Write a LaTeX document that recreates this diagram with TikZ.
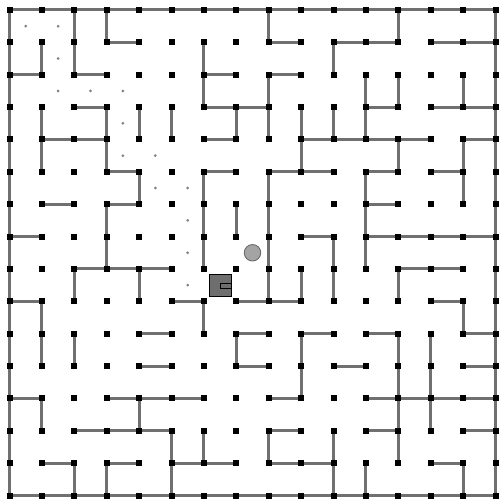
\documentclass[tikz,border=0pt]{standalone}
\usepackage{tikz}
\definecolor{wallgray}{HTML}{707070}
\definecolor{dotgray}{HTML}{808080}
\definecolor{ballfill}{HTML}{A4A4A4}
\definecolor{ballline}{HTML}{6A6A6A}
\definecolor{botfill}{HTML}{6E6E6E}
\tikzset{
  wall/.style={draw=wallgray, line width=3pt, line cap=rect},
  post/.style={rectangle, fill=black, minimum size=6pt, inner sep=0pt},
  pathdot/.style={circle, fill=dotgray, minimum size=3pt, inner sep=0pt},
  ball/.style={circle, fill=ballfill, draw=ballline, line width=0.9pt, minimum size=16.5pt, inner sep=0pt},
  robot/.style={rectangle, fill=botfill, draw=black, line width=1.2pt, minimum size=22pt, inner sep=0pt}
}
\begin{document}
\begin{tikzpicture}[x=1pt,y=-1pt]
\useasboundingbox (0,0) rectangle (500,502);
% grid coordinates
\foreach \i in {0,...,15}{
  \foreach \j in {0,...,15}{
    \coordinate (p-\i-\j) at ({9.5+32.4*\i},{10+32.37*\j});
  }
}
% walls
\foreach \a/\b/\c/\d in {
  0/0/15/0, 0/0/0/15, 15/0/15/15, 0/15/15/15,
  2/0/2/2, 2/2/3/2, 3/0/3/1, 3/1/4/1, 1/1/1/2, 0/2/1/2,
  2/3/3/3, 3/3/3/5, 3/5/4/5, 4/5/4/6, 3/6/4/6, 3/6/3/8,
  1/3/1/5, 1/4/3/4, 4/3/4/4, 5/3/5/4,
  8/0/8/1, 8/1/9/1, 10/1/10/2,
  6/1/6/3, 6/2/7/2, 6/3/8/3, 8/2/9/2, 8/2/8/4,
  7/3/7/4, 6/4/7/4, 9/3/9/5, 9/4/10/4, 8/5/10/5,
  6/5/7/5, 6/5/6/8, 10/3/10/4,
  12/0/12/1, 10/1/12/1, 13/1/15/1,
  11/2/11/4, 11/3/12/3, 12/2/12/3,
  14/2/14/3, 13/3/15/3, 10/4/13/4,
  12/4/12/5, 11/5/12/5, 11/5/11/8,
  14/4/15/4, 14/4/14/6, 13/5/14/5,
  1/6/2/6, 0/7/1/7, 2/8/5/8, 2/8/2/9, 4/8/4/9,
  0/9/1/9, 1/9/1/11, 4/10/5/10, 5/9/6/9, 6/9/6/10,
  8/5/8/9, 7/6/7/7, 9/7/10/7, 10/7/10/9, 9/8/9/9, 7/9/9/9,
  7/10/8/10, 9/10/10/10,
  11/6/12/6, 11/7/15/7, 12/8/14/8, 12/8/12/9,
  13/9/14/9, 14/9/14/10, 14/10/15/10, 11/10/12/10,
  2/10/2/11, 4/11/5/11, 0/12/1/12, 1/12/1/13,
  3/12/6/12, 4/12/4/13, 2/13/5/13, 5/13/5/15,
  1/14/2/14, 2/14/2/15, 3/14/4/14, 3/14/3/15,
  5/14/7/14, 6/13/6/14, 7/10/7/11, 7/11/8/11,
  9/10/9/12, 8/12/9/12, 8/13/9/13, 8/13/8/14, 8/14/10/14,
  10/13/10/15, 12/10/12/14, 13/10/13/13, 10/11/11/11,
  14/11/15/11, 11/12/15/12, 11/13/12/13, 14/13/15/13,
  11/14/11/15, 13/14/14/14, 14/14/14/15}{
  \draw[wall] (p-\a-\b) -- (p-\c-\d);
}
% posts
\foreach \i in {0,...,15}{
  \foreach \j in {0,...,15}{
    \node[post] (q-\i-\j) at (p-\i-\j) {};
  }
}
% path dots
\foreach \c/\r [count=\k] in {0/0,1/0,1/1,1/2,2/2,3/2,3/3,3/4,4/4,4/5,5/5,5/6,5/7,5/8}{
  \node[pathdot] (d-\k) at ({9.5+32.4*(\c+0.5)},{10+32.37*(\r+0.5)}) {};
}
% ball
\node[ball] (ball) at ({9.5+32.4*7.5},{10+32.37*7.5}) {};
% robot
\node[robot] (bot) at ({9.5+32.4*6.5+0.3},{10+32.37*8.5+0.4}) {};
\draw[black, fill=botfill, line width=1pt] ([yshift=-2.5pt]bot.center) rectangle ([yshift=2.5pt,xshift=-0.6pt]bot.east);
\end{tikzpicture}
\end{document}
